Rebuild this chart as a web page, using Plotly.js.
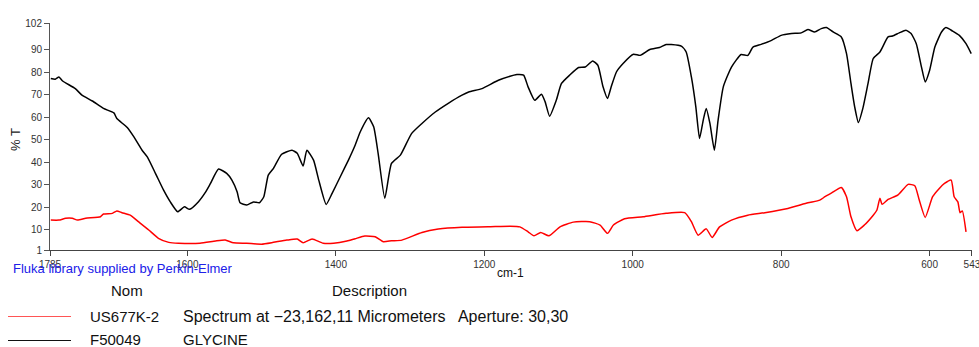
<!DOCTYPE html>
<html>
<head>
<meta charset="utf-8">
<script src="https://cdn.plot.ly/plotly-3.0.1.min.js"></script>
<style>
  html, body { margin: 0; padding: 0; background: #fff; }
  #chart { width: 979px; height: 347px; }
</style>
</head>
<body>
<div id="chart"></div>
<script>
// ---- Data ----
const glycineWavenumber = [1784,1778,1773,1768,1751,1742,1728,1713,1699,1695,1681,1672,1661,1654,1643,1632,1623,1613,1604,1597,1585,1576,1569,1558,1547,1540,1533,1529,1520,1511,1503,1497,1491,1484,1473,1459,1452,1444,1439,1430,1423,1413,1405,1394,1383,1374,1367,1356,1349,1343,1334,1325,1313,1298,1284,1266,1248,1230,1221,1203,1181,1160,1156,1147,1141,1132,1123,1118,1112,1103,1096,1085,1073,1064,1054,1047,1040,1034,1029,1022,1013,999,990,977,964,955,948,934,928,921,915,910,905,901,896,890,885,878,867,854,845,838,827,813,800,786,773,764,755,746,739,730,719,712,706,701,696,690,683,676,667,656,650,641,632,625,618,611,606,600,593,584,578,569,560,551,544];
const glycineT = [77.3,77.0,78.0,76.2,72.8,69.9,67.3,64.0,62.0,59.5,55.5,51.3,45.4,42.4,35.1,27.6,22.4,18.0,20.2,19.1,22.5,26.5,30.5,37.0,35.1,32.1,26.9,22.0,21.0,22.4,22.0,24.7,34.3,37.3,43.6,45.4,44.0,38.4,45.4,41.0,32.1,21.3,26.2,33.6,41.0,47.6,53.6,59.8,55.8,44.0,24.0,39.5,43.2,52.8,57.3,62.4,66.4,69.9,71.3,72.8,76.5,78.8,79.1,78.8,73.6,67.6,70.3,66.9,60.5,67.6,75.1,78.8,82.2,82.4,85.1,83.2,73.6,68.4,73.6,80.2,84.0,88.1,87.6,90.2,91.1,92.4,92.4,91.6,89.1,78.0,64.7,50.6,58.8,64.0,57.3,45.4,58.8,73.6,82.4,88.0,87.6,91.3,92.5,94.3,96.5,97.3,97.6,99.1,98.0,99.5,100.0,98.0,95.8,88.4,75.1,64.7,57.7,64.0,75.1,86.2,89.1,95.8,96.2,97.6,98.8,97.3,92.8,82.4,75.8,81.0,91.3,98.0,100.0,98.4,96.5,92.8,88.4];

const sampleWavenumber = [1784,1773,1764,1755,1748,1737,1717,1713,1701,1695,1688,1677,1666,1652,1639,1625,1612,1583,1562,1549,1538,1520,1500,1484,1466,1452,1444,1432,1417,1403,1385,1374,1361,1347,1336,1325,1311,1284,1262,1230,1195,1165,1152,1141,1133,1124,1113,1098,1080,1058,1044,1034,1026,1011,986,955,930,921,912,901,893,883,867,845,822,791,764,748,741,732,719,712,706,698,688,676,671,667,664,656,643,629,620,614,606,596,587,580,571,567,562,559,556,551];
const sampleT = [14.3,14.3,15.1,15.1,14.3,15.1,15.8,17.0,17.3,18.4,17.6,16.5,13.6,9.9,6.2,4.4,4.0,4.0,5.0,5.4,4.2,4.0,3.6,4.4,5.4,5.9,4.2,5.9,4.0,4.0,5.0,6.0,7.2,6.9,4.7,5.1,5.4,8.8,10.3,11.1,11.3,11.6,11.3,9.1,7.3,8.8,7.3,11.3,13.4,13.6,12.1,8.4,12.1,14.9,15.8,17.3,17.6,13.6,7.6,10.4,6.6,11.3,14.3,16.5,17.6,19.5,22.0,23.2,24.7,26.4,28.8,24.7,15.8,9.6,12.1,16.5,18.8,24.0,21.3,23.5,25.4,30.2,29.6,23.2,15.5,24.7,28.4,30.6,32.1,24.7,22.4,17.6,18.4,9.1];

const xTickVals = [1785,1600,1400,1200,1000,800,600,543];
const yTickVals = [1,10,20,30,40,50,60,70,80,90,102];

const sampleName = "US677K-2";
const sampleDesc = "Spectrum at \u221223,162,11 Micrometers\u00a0\u00a0 Aperture: 30,30";
const refName = "F50049";
const refDesc = "GLYCINE";

// ---- Layout helpers (pixel -> paper) ----
const L = 50, R = 7, T = 23, B = 97, W = 979, H = 347;
const pw = W - L - R, ph = H - T - B;
const px = x => (x - L) / pw;
const py = y => (H - B - y) / ph;

const tickFont = {family: "Liberation Sans Narrow, Liberation Sans, Arial, sans-serif", size: 10, color: "#333"};
const legFont = {family: "Liberation Sans, Arial, sans-serif", size: 15, color: "#111"};
const legFontWide = {family: "Liberation Sans, Arial, sans-serif", size: 16, color: "#111"};

const traces = [
  {x: sampleWavenumber, y: sampleT, type: "scatter", mode: "lines",
   line: {color: "#ff0000", width: 1.5, shape: "spline", smoothing: 0.5}, hoverinfo: "skip"},
  {x: glycineWavenumber, y: glycineT, type: "scatter", mode: "lines",
   line: {color: "#000000", width: 1.5, shape: "spline", smoothing: 0.5}, hoverinfo: "skip"}
];

function ann(text, x, y, font, extra) {
  return Object.assign({text: text, x: px(x), y: py(y), xref: "paper", yref: "paper",
    showarrow: false, xanchor: "left", yanchor: "middle", font: font, borderpad: 0}, extra || {});
}

const layout = {
  width: W, height: H,
  margin: {l: L, r: R, t: T, b: B, pad: 0},
  paper_bgcolor: "#fff", plot_bgcolor: "#fff",
  showlegend: false,
  xaxis: {range: [1785.05, 542.95], tickvals: xTickVals, ticktext: xTickVals.map(String),
    ticklabeloverflow: "allow",
    showgrid: false, zeroline: false, showline: true, linecolor: "#444", linewidth: 1,
    ticks: "outside", ticklen: 5, tickcolor: "#444", tickfont: tickFont},
  yaxis: {range: [1, 102], tickvals: yTickVals, ticktext: yTickVals.map(String),
    ticklabeloverflow: "allow",
    showgrid: false, zeroline: false, showline: true, linecolor: "#555", linewidth: 1,
    ticks: "outside", ticklen: 5, tickcolor: "#555", tickfont: tickFont},
  annotations: [
    ann("% T", 15, 140, {family: "Liberation Sans, Arial, sans-serif", size: 13, color: "#222"},
        {textangle: -90, xanchor: "center"}),
    ann("cm-1", 510, 273, {family: "Liberation Sans, Arial, sans-serif", size: 12, color: "#111"},
        {xanchor: "center"}),
    ann("Fluka library supplied by Perkin-Elmer", 12, 268,
        {family: "Liberation Sans, Arial, sans-serif", size: 13, color: "#2020e8"}),
    ann("Nom", 110, 290, legFont),
    ann("Description", 331, 290, legFont),
    ann(sampleName, 89, 316, legFont),
    ann(sampleDesc, 182, 316, legFontWide),
    ann(refName, 89, 339.5, legFont),
    ann(refDesc, 182, 339.5, legFont)
  ],
  shapes: [
    {type: "line", xref: "paper", yref: "paper", x0: px(8), x1: px(71), y0: py(316.5), y1: py(316.5),
     line: {color: "#ff5555", width: 1}},
    {type: "line", xref: "paper", yref: "paper", x0: px(8), x1: px(71), y0: py(340.5), y1: py(340.5),
     line: {color: "#111", width: 1}}
  ]
};

Plotly.newPlot("chart", traces, layout, {staticPlot: true, displayModeBar: false});
</script>
</body>
</html>
